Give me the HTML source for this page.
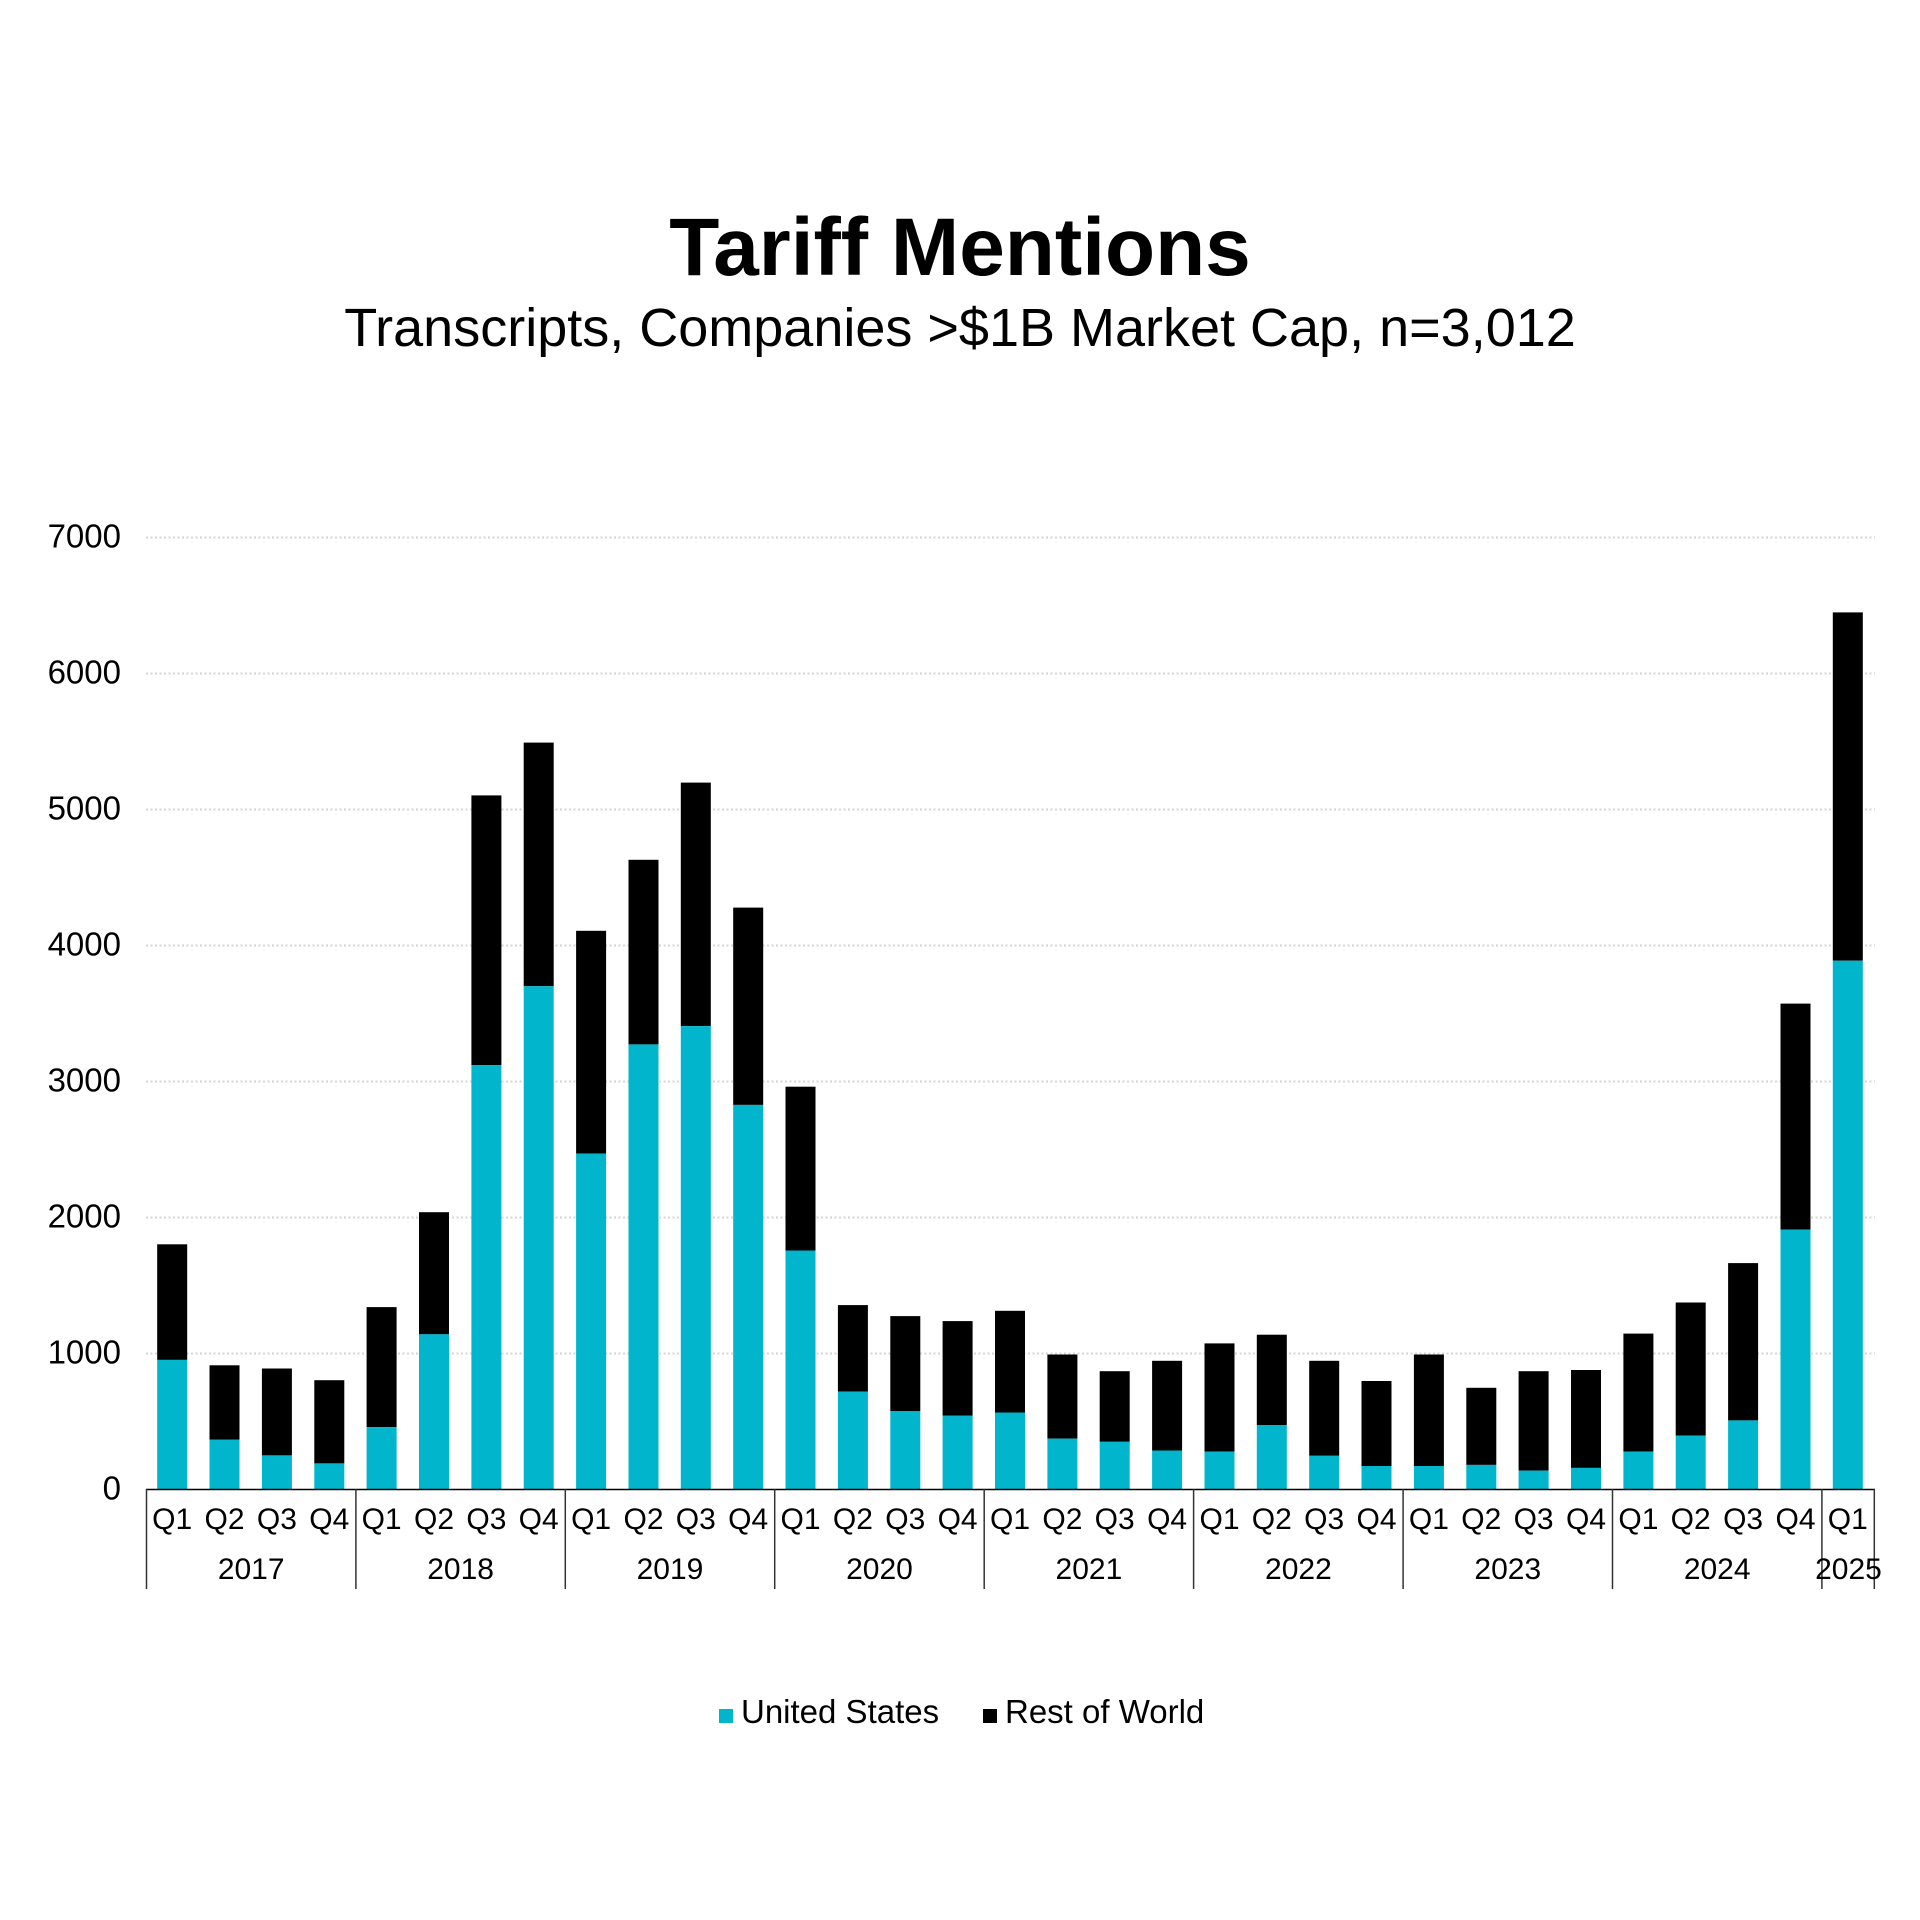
<!DOCTYPE html>
<html>
<head>
<meta charset="utf-8">
<style>
  html, body { margin: 0; padding: 0; background: #ffffff; }
  svg { display: block; }
  text { font-family: "Liberation Sans", "DejaVu Sans", sans-serif; fill: #000; }
</style>
</head>
<body>
<svg width="1920" height="1920" viewBox="0 0 1920 1920" xmlns="http://www.w3.org/2000/svg">
  <rect x="0" y="0" width="1920" height="1920" fill="#ffffff"/>

  <!-- Title -->
  <text x="960" y="275" font-size="82" font-weight="bold" text-anchor="middle">Tariff Mentions</text>
  <text x="960" y="346" font-size="54" text-anchor="middle">Transcripts, Companies &gt;$1B Market Cap, n=3,012</text>

  <!-- Gridlines -->
  <g stroke="#d6d6d6" stroke-width="2" stroke-dasharray="2 2.5" fill="none">
    <line x1="146" y1="1353.5" x2="1875" y2="1353.5"/>
    <line x1="146" y1="1217.5" x2="1875" y2="1217.5"/>
    <line x1="146" y1="1081.5" x2="1875" y2="1081.5"/>
    <line x1="146" y1="945.5" x2="1875" y2="945.5"/>
    <line x1="146" y1="809.5" x2="1875" y2="809.5"/>
    <line x1="146" y1="673.5" x2="1875" y2="673.5"/>
    <line x1="146" y1="537.5" x2="1875" y2="537.5"/>
  </g>

  <!-- Y labels -->
  <g font-size="33" text-anchor="end">
    <text x="121" y="1499.5">0</text>
    <text x="121" y="1363.5">1000</text>
    <text x="121" y="1227.5">2000</text>
    <text x="121" y="1091.5">3000</text>
    <text x="121" y="955.5">4000</text>
    <text x="121" y="819.5">5000</text>
    <text x="121" y="683.5">6000</text>
    <text x="121" y="547.5">7000</text>
  </g>

  <!-- Rest of World (black) -->
  <g fill="#000000">
    <rect x="157.2" y="1244.3" width="30" height="115.6"/>
    <rect x="209.5" y="1365.3" width="30" height="74.2"/>
    <rect x="261.9" y="1368.5" width="30" height="86.9"/>
    <rect x="314.3" y="1380.2" width="30" height="83.2"/>
    <rect x="366.6" y="1307.1" width="30" height="120.0"/>
    <rect x="419.0" y="1212.2" width="30" height="122.1"/>
    <rect x="471.4" y="795.4" width="30" height="269.8"/>
    <rect x="523.7" y="742.6" width="30" height="243.6"/>
    <rect x="576.1" y="930.8" width="30" height="222.8"/>
    <rect x="628.5" y="859.8" width="30" height="184.6"/>
    <rect x="680.8" y="782.6" width="30" height="243.5"/>
    <rect x="733.2" y="907.6" width="30" height="197.3"/>
    <rect x="785.5" y="1086.7" width="30" height="163.8"/>
    <rect x="837.9" y="1305.1" width="30" height="86.5"/>
    <rect x="890.3" y="1316.1" width="30" height="94.9"/>
    <rect x="942.6" y="1321.1" width="30" height="94.4"/>
    <rect x="995.0" y="1310.8" width="30" height="101.7"/>
    <rect x="1047.4" y="1354.5" width="30" height="84.1"/>
    <rect x="1099.7" y="1371.2" width="30" height="70.6"/>
    <rect x="1152.1" y="1360.8" width="30" height="89.7"/>
    <rect x="1204.5" y="1343.4" width="30" height="108.2"/>
    <rect x="1256.8" y="1334.7" width="30" height="90.3"/>
    <rect x="1309.2" y="1360.8" width="30" height="95.0"/>
    <rect x="1361.5" y="1381.0" width="30" height="85.0"/>
    <rect x="1413.9" y="1354.5" width="30" height="111.5"/>
    <rect x="1466.3" y="1387.8" width="30" height="77.1"/>
    <rect x="1518.6" y="1371.2" width="30" height="99.4"/>
    <rect x="1571.0" y="1370.0" width="30" height="97.9"/>
    <rect x="1623.4" y="1333.6" width="30" height="118.0"/>
    <rect x="1675.7" y="1302.5" width="30" height="133.1"/>
    <rect x="1728.1" y="1263.1" width="30" height="157.3"/>
    <rect x="1780.5" y="1003.6" width="30" height="226.0"/>
    <rect x="1832.8" y="612.4" width="30" height="348.3"/>
  </g>

  <!-- United States (teal) -->
  <g fill="#00b5cc">
    <rect x="157.2" y="1359.9" width="30" height="129.6"/>
    <rect x="209.5" y="1439.5" width="30" height="50.0"/>
    <rect x="261.9" y="1455.4" width="30" height="34.1"/>
    <rect x="314.3" y="1463.4" width="30" height="26.1"/>
    <rect x="366.6" y="1427.1" width="30" height="62.4"/>
    <rect x="419.0" y="1334.3" width="30" height="155.2"/>
    <rect x="471.4" y="1065.2" width="30" height="424.3"/>
    <rect x="523.7" y="986.2" width="30" height="503.3"/>
    <rect x="576.1" y="1153.6" width="30" height="335.9"/>
    <rect x="628.5" y="1044.4" width="30" height="445.1"/>
    <rect x="680.8" y="1026.1" width="30" height="463.4"/>
    <rect x="733.2" y="1104.9" width="30" height="384.6"/>
    <rect x="785.5" y="1250.5" width="30" height="239.0"/>
    <rect x="837.9" y="1391.6" width="30" height="97.9"/>
    <rect x="890.3" y="1411.0" width="30" height="78.5"/>
    <rect x="942.6" y="1415.5" width="30" height="74.0"/>
    <rect x="995.0" y="1412.5" width="30" height="77.0"/>
    <rect x="1047.4" y="1438.6" width="30" height="50.9"/>
    <rect x="1099.7" y="1441.8" width="30" height="47.7"/>
    <rect x="1152.1" y="1450.5" width="30" height="39.0"/>
    <rect x="1204.5" y="1451.6" width="30" height="37.9"/>
    <rect x="1256.8" y="1425.0" width="30" height="64.5"/>
    <rect x="1309.2" y="1455.8" width="30" height="33.7"/>
    <rect x="1361.5" y="1466.0" width="30" height="23.5"/>
    <rect x="1413.9" y="1466.0" width="30" height="23.5"/>
    <rect x="1466.3" y="1464.9" width="30" height="24.6"/>
    <rect x="1518.6" y="1470.6" width="30" height="18.9"/>
    <rect x="1571.0" y="1467.9" width="30" height="21.6"/>
    <rect x="1623.4" y="1451.6" width="30" height="37.9"/>
    <rect x="1675.7" y="1435.6" width="30" height="53.9"/>
    <rect x="1728.1" y="1420.4" width="30" height="69.1"/>
    <rect x="1780.5" y="1229.6" width="30" height="259.9"/>
    <rect x="1832.8" y="960.7" width="30" height="528.8"/>
  </g>

  <!-- Axis line and category dividers -->
  <line x1="146" y1="1489.5" x2="1875" y2="1489.5" stroke="#000" stroke-width="1.5"/>
  <g stroke="#333" stroke-width="1.5">
    <line x1="146.5" y1="1489" x2="146.5" y2="1589"/>
    <line x1="355.9" y1="1489" x2="355.9" y2="1589"/>
    <line x1="565.3" y1="1489" x2="565.3" y2="1589"/>
    <line x1="774.7" y1="1489" x2="774.7" y2="1589"/>
    <line x1="984.2" y1="1489" x2="984.2" y2="1589"/>
    <line x1="1193.6" y1="1489" x2="1193.6" y2="1589"/>
    <line x1="1403.1" y1="1489" x2="1403.1" y2="1589"/>
    <line x1="1612.5" y1="1489" x2="1612.5" y2="1589"/>
    <line x1="1821.9" y1="1489" x2="1821.9" y2="1589"/>
    <line x1="1874.3" y1="1489" x2="1874.3" y2="1589"/>
  </g>

  <!-- Quarter labels -->
  <g font-size="30" text-anchor="middle">
    <text x="172.2" y="1529">Q1</text>
    <text x="224.5" y="1529">Q2</text>
    <text x="276.9" y="1529">Q3</text>
    <text x="329.3" y="1529">Q4</text>
    <text x="381.6" y="1529">Q1</text>
    <text x="434.0" y="1529">Q2</text>
    <text x="486.4" y="1529">Q3</text>
    <text x="538.7" y="1529">Q4</text>
    <text x="591.1" y="1529">Q1</text>
    <text x="643.5" y="1529">Q2</text>
    <text x="695.8" y="1529">Q3</text>
    <text x="748.2" y="1529">Q4</text>
    <text x="800.5" y="1529">Q1</text>
    <text x="852.9" y="1529">Q2</text>
    <text x="905.3" y="1529">Q3</text>
    <text x="957.6" y="1529">Q4</text>
    <text x="1010.0" y="1529">Q1</text>
    <text x="1062.4" y="1529">Q2</text>
    <text x="1114.7" y="1529">Q3</text>
    <text x="1167.1" y="1529">Q4</text>
    <text x="1219.5" y="1529">Q1</text>
    <text x="1271.8" y="1529">Q2</text>
    <text x="1324.2" y="1529">Q3</text>
    <text x="1376.5" y="1529">Q4</text>
    <text x="1428.9" y="1529">Q1</text>
    <text x="1481.3" y="1529">Q2</text>
    <text x="1533.6" y="1529">Q3</text>
    <text x="1586.0" y="1529">Q4</text>
    <text x="1638.4" y="1529">Q1</text>
    <text x="1690.7" y="1529">Q2</text>
    <text x="1743.1" y="1529">Q3</text>
    <text x="1795.5" y="1529">Q4</text>
    <text x="1847.8" y="1529">Q1</text>
  </g>

  <!-- Year labels -->
  <g font-size="30" text-anchor="middle">
    <text x="251.2" y="1579">2017</text>
    <text x="460.6" y="1579">2018</text>
    <text x="670.0" y="1579">2019</text>
    <text x="879.5" y="1579">2020</text>
    <text x="1088.9" y="1579">2021</text>
    <text x="1298.4" y="1579">2022</text>
    <text x="1507.8" y="1579">2023</text>
    <text x="1717.2" y="1579">2024</text>
    <text x="1848.5" y="1579">2025</text>
  </g>

  <!-- Legend -->
  <rect x="719" y="1709" width="14" height="14" fill="#00b5cc"/>
  <text x="741" y="1723" font-size="33">United States</text>
  <rect x="983" y="1709" width="14" height="14" fill="#000"/>
  <text x="1005" y="1723" font-size="33">Rest of World</text>
</svg>
</body>
</html>
